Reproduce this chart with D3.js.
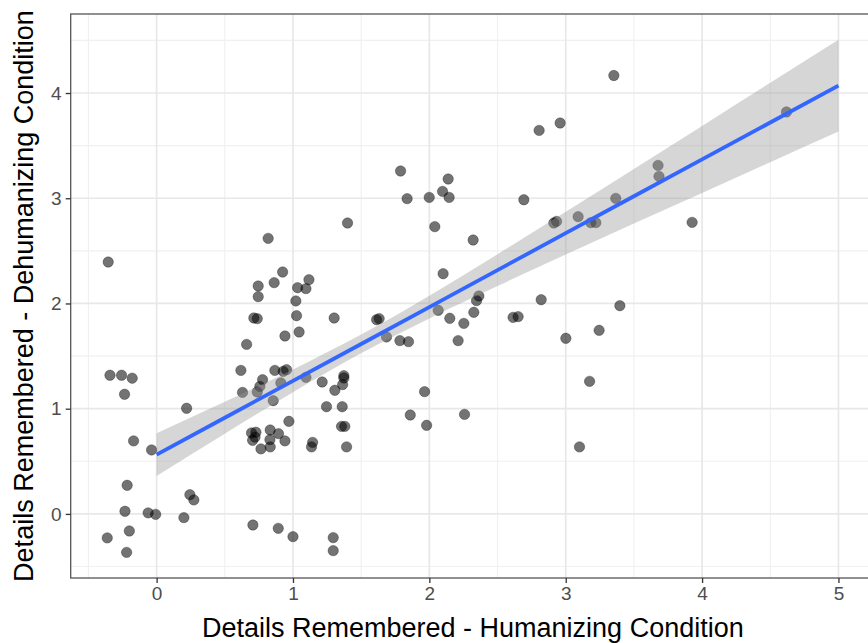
<!DOCTYPE html>
<html>
<head>
<meta charset="utf-8">
<script src="https://cdn.jsdelivr.net/npm/d3@7"></script>
<style>
  html, body { margin: 0; padding: 0; background: #fff; }
  svg { display: block; font-family: "Liberation Sans", Arial, Helvetica, sans-serif; }
</style>
</head>
<body>
<svg id="chart" width="868" height="643"></svg>
<script>
// Details remembered per participant: humanizing (x) vs dehumanizing (y) condition
const humanizing = [
  -0.355, -0.342, -0.257, -0.179, -0.235, 0.220, -0.169, -0.037, -0.216, 0.244,
  0.273, -0.232, -0.062, -0.007, 0.200, -0.200, -0.362, -0.220, 0.706, 0.892,
  1.000, 1.295, 1.295, 0.696, 0.728, 0.704, 0.722, 0.765, 0.833, 0.831,
  0.833, 0.894, 0.941, 0.970, 1.144, 1.136, 1.356, 1.380, 1.393, 0.818,
  1.400, 0.924, 0.862, 0.745, 0.745, 1.117, 1.034, 1.095, 1.021, 0.713,
  0.738, 1.026, 1.302, 1.045, 0.941, 0.660, 0.618, 0.867, 0.928, 0.953,
  0.777, 0.757, 0.738, 0.630, 0.911, 0.855, 1.095, 1.214, 1.373, 1.373,
  1.364, 1.307, 1.246, 1.361, 1.860, 1.613, 1.632, 1.686, 1.784, 1.847,
  1.789, 2.138, 2.097, 1.837, 1.999, 2.145, 2.805, 2.959, 2.693, 2.040,
  2.321, 2.913, 2.933, 3.091, 3.184, 3.221, 3.367, 2.101, 2.363, 2.346,
  2.326, 2.065, 2.150, 2.253, 2.211, 2.614, 2.651, 2.820, 3.397, 3.245,
  3.001, 1.965, 1.980, 2.258, 3.175, 3.101, 3.353, 4.619, 3.677, 3.684,
  3.927
];
const dehumanizing = [
  2.394, 1.318, 1.318, 1.290, 1.137, 1.004, 0.694, 0.608, 0.272, 0.183,
  0.133, 0.025, 0.010, -0.004, -0.035, -0.162, -0.228, -0.365, -0.105, -0.137,
  -0.216, -0.225, -0.349, 0.770, 0.776, 0.700, 0.730, 0.618, 0.798, 0.706,
  0.637, 0.763, 0.694, 0.880, 0.680, 0.637, 0.832, 0.832, 0.637, 2.619,
  2.765, 2.299, 2.198, 2.166, 2.065, 2.226, 2.150, 2.141, 2.024, 1.862,
  1.856, 1.884, 1.862, 1.729, 1.691, 1.611, 1.364, 1.364, 1.355, 1.371,
  1.276, 1.212, 1.159, 1.155, 1.245, 1.076, 1.298, 1.254, 1.314, 1.292,
  1.229, 1.175, 1.019, 1.019, 0.940, 1.846, 1.856, 1.682, 1.647, 1.637,
  3.259, 3.183, 3.065, 2.996, 3.008, 3.008, 3.645, 3.715, 2.986, 2.730,
  2.603, 2.765, 2.780, 2.825, 2.768, 2.768, 2.999, 2.283, 2.071, 2.027,
  1.916, 1.935, 1.859, 1.811, 1.647, 1.868, 1.875, 2.036, 1.979, 1.745,
  1.669, 1.162, 0.842, 0.946, 1.260, 0.637, 4.167, 3.820, 3.312, 3.208,
  2.771
];

// Linear fit with its confidence band
const fitX     = [0, 0.5, 1, 1.5, 2, 2.5, 3, 3.5, 4, 4.5, 5];
const fitY     = [0.563, 0.914, 1.265, 1.615, 1.966, 2.317, 2.668, 3.019, 3.369, 3.720, 4.071];
const fitLower = [0.360, 0.763, 1.157, 1.526, 1.858, 2.166, 2.465, 2.759, 3.051, 3.343, 3.635];
const fitUpper = [0.766, 1.065, 1.373, 1.704, 2.074, 2.468, 2.871, 3.279, 3.687, 4.097, 4.507];

// Axis ticks
const xTicks = [0, 1, 2, 3, 4, 5];
const yTicks = [0, 1, 2, 3, 4];
const xMinor = [-0.5, 0.5, 1.5, 2.5, 3.5, 4.5];
const yMinor = [-0.5, 0.5, 1.5, 2.5, 3.5, 4.5];

const xTitle = "Details Remembered - Humanizing Condition";
const yTitle = "Details Remembered - Dehumanizing Condition";

const svg = d3.select("#chart");
const panel = { left: 70.7, right: 875, top: 14, bottom: 578 };

const x = d3.scaleLinear().domain([-0.63, 5.268]).range([panel.left, panel.right]);
const y = d3.scaleLinear().domain([-0.609, 4.751]).range([panel.bottom, panel.top]);

const g = svg.append("g");

// panel background and grid
g.append("rect")
  .attr("x", panel.left).attr("y", panel.top)
  .attr("width", panel.right - panel.left).attr("height", panel.bottom - panel.top)
  .attr("fill", "#fff");

const grid = g.append("g");
grid.selectAll("line.xminor").data(xMinor).join("line")
  .attr("x1", d => x(d)).attr("x2", d => x(d))
  .attr("y1", panel.top).attr("y2", panel.bottom)
  .attr("stroke", "#f0f0f0").attr("stroke-width", 1.1);
grid.selectAll("line.yminor").data(yMinor).join("line")
  .attr("y1", d => y(d)).attr("y2", d => y(d))
  .attr("x1", panel.left).attr("x2", panel.right)
  .attr("stroke", "#f0f0f0").attr("stroke-width", 1.1);
grid.selectAll("line.xmajor").data(xTicks).join("line")
  .attr("x1", d => x(d)).attr("x2", d => x(d))
  .attr("y1", panel.top).attr("y2", panel.bottom)
  .attr("stroke", "#e8e8e8").attr("stroke-width", 1.7);
grid.selectAll("line.ymajor").data(yTicks).join("line")
  .attr("y1", d => y(d)).attr("y2", d => y(d))
  .attr("x1", panel.left).attr("x2", panel.right)
  .attr("stroke", "#e8e8e8").attr("stroke-width", 1.7);

// points
const pts = humanizing.map((v, i) => [v, dehumanizing[i]]);
g.append("g").selectAll("circle").data(pts).join("circle")
  .attr("cx", d => x(d[0])).attr("cy", d => y(d[1]))
  .attr("r", 5.2)
  .attr("fill", "#000").attr("fill-opacity", 0.55)
  .attr("stroke", "#000").attr("stroke-opacity", 0.35).attr("stroke-width", 0.9);

// confidence band and fitted line
const band = fitX.map((v, i) => ({ x: v, lo: fitLower[i], hi: fitUpper[i], y: fitY[i] }));
g.append("path").datum(band)
  .attr("d", d3.area().x(d => x(d.x)).y0(d => y(d.lo)).y1(d => y(d.hi)).curve(d3.curveMonotoneX))
  .attr("fill", "#999999").attr("fill-opacity", 0.4);
g.append("path").datum(band)
  .attr("d", d3.line().x(d => x(d.x)).y(d => y(d.y)))
  .attr("fill", "none").attr("stroke", "#3366FF").attr("stroke-width", 3.8);

// panel border
g.append("rect")
  .attr("x", panel.left).attr("y", panel.top)
  .attr("width", panel.right - panel.left).attr("height", panel.bottom - panel.top)
  .attr("fill", "none").attr("stroke", "#555").attr("stroke-width", 1.3);

// axes
const xAxis = d3.axisBottom(x).tickValues(xTicks).tickSize(5).tickPadding(4).tickFormat(d3.format("d"));
const yAxis = d3.axisLeft(y).tickValues(yTicks).tickSize(5).tickPadding(4).tickFormat(d3.format("d"));

const gx = svg.append("g").attr("transform", `translate(0,${panel.bottom})`).call(xAxis);
const gy = svg.append("g").attr("transform", `translate(${panel.left},0)`).call(yAxis);
[gx, gy].forEach(a => {
  a.select(".domain").remove();
  a.selectAll(".tick line").attr("stroke", "#333").attr("stroke-width", 1.3);
  a.selectAll(".tick text").attr("fill", "#4d4d4d")
    .style("font-size", "19px").style("font-family", "Liberation Sans, Arial, sans-serif");
});

// axis titles
svg.append("text")
  .attr("x", (panel.left + panel.right) / 2).attr("y", 637)
  .attr("text-anchor", "middle").attr("fill", "#000")
  .style("font-size", "27px")
  .text(xTitle);
svg.append("text")
  .attr("transform", `translate(33,${(panel.top + panel.bottom) / 2}) rotate(-90)`)
  .attr("text-anchor", "middle").attr("fill", "#000")
  .style("font-size", "27px")
  .text(yTitle);
</script>
</body>
</html>
